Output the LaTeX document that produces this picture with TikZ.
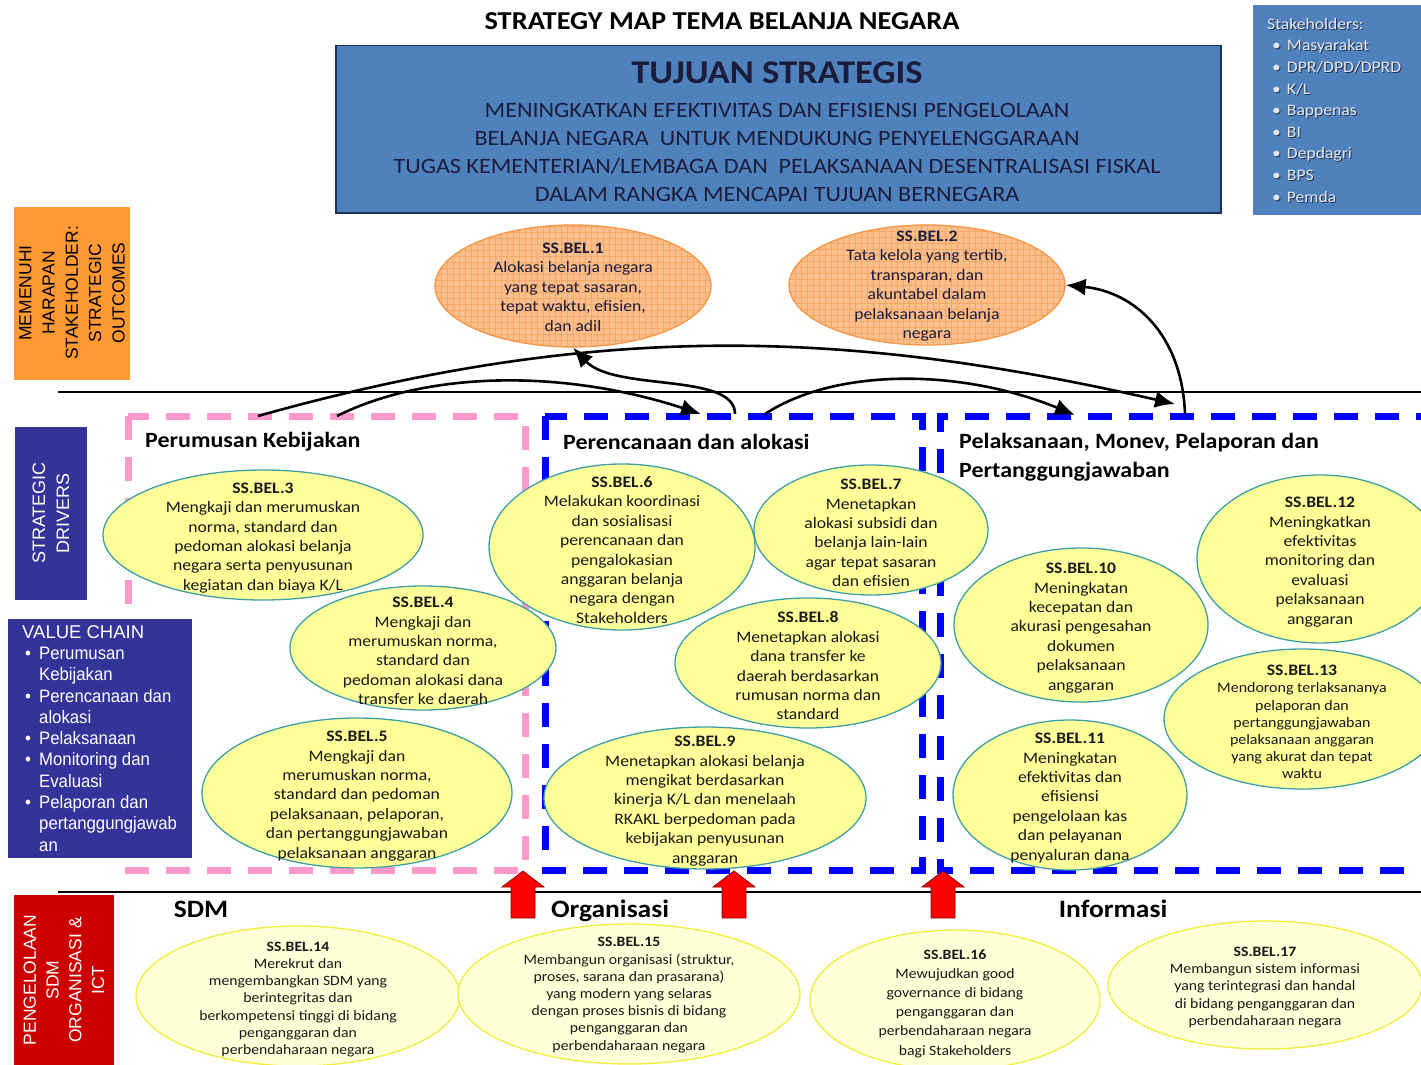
\documentclass[tikz,border=0pt]{standalone}
\usepackage{fontspec}
\setmainfont{Carlito}
\newfontfamily\calfont[FakeStretch=1.1]{Carlito}
\newfontfamily\arlfont{Liberation Sans}
\newfontfamily\arlnarrow[FakeStretch=0.93]{Liberation Sans}
\usetikzlibrary{shapes.geometric,arrows.meta}
\definecolor{boxblue}{HTML}{4F81BD}
\definecolor{boxedge}{HTML}{1F3050}
\definecolor{navyb}{HTML}{333399}
\definecolor{orbox}{HTML}{FF9933}
\definecolor{redbox}{HTML}{CC0000}
\definecolor{yelfill}{HTML}{FFFF99}
\definecolor{tealb}{HTML}{3E9FA8}
\definecolor{orfill}{HTML}{FBC08E}
\definecolor{orgrid}{HTML}{F5A765}
\definecolor{orline}{HTML}{F79646}
\definecolor{palefill}{HTML}{FFFFD8}
\definecolor{yelline}{HTML}{F2EC3A}
\definecolor{pinkd}{HTML}{FF99CC}
\definecolor{blued}{HTML}{0000FF}
\definecolor{darktxt}{HTML}{1C1C3C}
\definecolor{shtxt}{HTML}{E4E8EE}
\definecolor{shdark}{HTML}{26324A}
\tikzset{
 mid/.style={ellipse, draw=tealb, line width=1.3pt, fill=yelfill, inner sep=0pt},
 midt/.style={align=center, text=black!90, inner sep=0pt, yshift=-3pt, font=\calfont\fontsize{16}{19.4}\selectfont},
 topo/.style={ellipse, draw=orline, line width=1.3pt, fill=orfill, inner sep=0pt,
   path picture={\draw[orgrid, line width=0.5pt, step=6pt] (path picture bounding box.south west) grid (path picture bounding box.north east);}},
 topot/.style={align=center, text=darktxt, inner sep=0pt, yshift=-1pt, font=\calfont\fontsize{16}{19.5}\selectfont},
 bot/.style={ellipse, draw=yelline, line width=1.3pt, fill=palefill, inner sep=0pt},
 bott/.style={align=center, text=black!90, inner sep=0pt, yshift=-2.5pt, font=\calfont\fontsize{14.3}{17.2}\selectfont},
 hdr/.style={font=\calfont\bfseries\fontsize{21.8}{29}\selectfont, anchor=west, inner sep=0pt, align=left},
 sec/.style={font=\calfont\bfseries\fontsize{25}{28}\selectfont, inner sep=0pt, anchor=base},
 sidelab/.style={font=\arlfont\fontsize{17.5}{23.3}\selectfont, rotate=90, align=center, inner sep=0pt},
 dashbox/.style={line width=7pt, dash pattern=on 24pt off 17pt},
 flow/.style={line width=2.6pt, -{Latex[length=20pt,width=17pt]}},
 uparrow/.style={fill=red, draw=red!55!black, line width=0.8pt},
 sepline/.style={line width=1.4pt, black},
}
\newcommand{\stklist}{Stakeholders:\\\hspace*{5pt}\textbullet\hspace*{6pt}Masyarakat\\\hspace*{5pt}\textbullet\hspace*{6pt}DPR/DPD/DPRD\\\hspace*{5pt}\textbullet\hspace*{6pt}K/L\\\hspace*{5pt}\textbullet\hspace*{6pt}Bappenas\\\hspace*{5pt}\textbullet\hspace*{6pt}BI\\\hspace*{5pt}\textbullet\hspace*{6pt}Depdagri\\\hspace*{5pt}\textbullet\hspace*{6pt}BPS\\\hspace*{5pt}\textbullet\hspace*{6pt}Pemda}
\begin{document}
\begin{tikzpicture}[x=1pt,y=-1pt]
\useasboundingbox (0,0) rectangle (1421,1065);
\fill[white] (0,0) rectangle (1421,1065);

% title and goal box
\node[font=\calfont\bfseries\fontsize{25.8}{28}\selectfont, inner sep=0pt] (title) at (722,21) {STRATEGY MAP TEMA BELANJA NEGARA};
\node[draw=boxedge, line width=1.5pt, fill=boxblue, minimum width=885pt, minimum height=167pt, anchor=north west, inner sep=0pt] (tuj) at (335,45) {};
\node[font=\calfont\bfseries\fontsize{33.2}{35}\selectfont, text=darktxt, inner sep=0pt] (tujt) at (777,73) {TUJUAN STRATEGIS};
\node[font=\calfont\fontsize{21.9}{28}\selectfont, text=darktxt, align=center, inner sep=0pt] (tujx) at (777,152)
 {MENINGKATKAN EFEKTIVITAS DAN EFISIENSI PENGELOLAAN\\BELANJA NEGARA\ \ UNTUK MENDUKUNG PENYELENGGARAAN\\TUGAS KEMENTERIAN/LEMBAGA DAN\ \ PELAKSANAAN DESENTRALISASI FISKAL\\DALAM RANGKA MENCAPAI TUJUAN BERNEGARA};

% stakeholders
\node[fill=boxblue, minimum width=170pt, minimum height=210pt, anchor=north west, inner sep=0pt] (stk) at (1253,5) {};
\node[font=\calfont\fontsize{16}{21.6}\selectfont, text=shdark, align=left, anchor=north west, inner sep=0pt] (stks) at (1268,19) {\stklist};
\node[font=\calfont\fontsize{16}{21.6}\selectfont, text=shtxt, align=left, anchor=north west, inner sep=0pt] (stkt) at (1267,18) {\stklist};

% separator lines
\coordinate (l1a) at (58,392); \coordinate (l1b) at (1421,392);
\coordinate (l2a) at (58,892); \coordinate (l2b) at (1421,892);
\draw[sepline] (l1a) -- (l1b);
\draw[sepline] (l2a) -- (l2b);

% dashed value-chain boxes
\draw[dashbox, pinkd] (128,416) rectangle (525,870);
\draw[dashbox, blued] (545,416) rectangle (922,870);
\draw[dashbox, blued] (1440,416) -- (940,416) -- (940,870) -- (1440,870);

\node[hdr] (h1) at (145,442) {Perumusan Kebijakan};
\node[hdr] (h2) at (563,442) {Perencanaan dan alokasi};
\node[hdr, anchor=north west] (h3) at (959,433) {Pelaksanaan, Monev, Pelaporan dan\\Pertanggungjawaban};

% strategic outcomes
\node[topo, minimum width=276pt, minimum height=122pt, label={[topot]center:{\textbf{SS.BEL.1}\\Alokasi belanja negara\\yang tepat sasaran,\\tepat waktu, efisien,\\dan adil}}] (b1) at (573,286) {};
\node[topo, minimum width=276pt, minimum height=120pt, label={[topot]center:{\textbf{SS.BEL.2}\\Tata kelola yang tertib,\\transparan, dan\\akuntabel dalam\\pelaksanaan belanja\\negara}}] (b2) at (927,285) {};

% strategic drivers
\node[mid, minimum width=320pt, minimum height=130pt, label={[midt]center:{\textbf{SS.BEL.3}\\Mengkaji dan merumuskan\\norma, standard dan\\pedoman alokasi belanja\\negara serta penyusunan\\kegiatan dan biaya K/L}}] (b3) at (263,535) {};
\node[mid, minimum width=266pt, minimum height=124pt, label={[midt]center:{\textbf{SS.BEL.4}\\Mengkaji dan\\merumuskan norma,\\standard dan\\pedoman alokasi dana\\transfer ke daerah}}] (b4) at (423,648) {};
\node[mid, minimum width=310pt, minimum height=150pt, label={[midt]center:{\textbf{SS.BEL.5}\\Mengkaji dan\\merumuskan norma,\\standard dan pedoman\\pelaksanaan, pelaporan,\\dan pertanggungjawaban\\pelaksanaan anggaran}}] (b5) at (357,793) {};
\node[mid, minimum width=266pt, minimum height=166pt, label={[midt]center:{\textbf{SS.BEL.6}\\Melakukan koordinasi\\dan sosialisasi\\perencanaan dan\\pengalokasian\\anggaran belanja\\negara dengan\\Stakeholders}}] (b6) at (622,547) {};
\node[mid, minimum width=234pt, minimum height=130pt, label={[midt]center:{\textbf{SS.BEL.7}\\Menetapkan\\alokasi subsidi dan\\belanja lain-lain\\agar tepat sasaran\\dan efisien}}] (b7) at (871,530) {};
\node[mid, minimum width=266pt, minimum height=130pt, label={[midt]center:{\textbf{SS.BEL.8}\\Menetapkan alokasi\\dana transfer ke\\daerah berdasarkan\\rumusan norma dan\\standard}}] (b8) at (808,663) {};
\node[mid, minimum width=322pt, minimum height=142pt, label={[midt]center:{\textbf{SS.BEL.9}\\Menetapkan alokasi belanja\\mengikat berdasarkan\\kinerja K/L dan menelaah\\RKAKL berpedoman pada\\kebijakan penyusunan\\anggaran}}] (b9) at (705,798) {};
\node[mid, minimum width=254pt, minimum height=154pt, label={[midt]center:{\textbf{SS.BEL.10}\\Meningkatan\\kecepatan dan\\akurasi pengesahan\\dokumen\\pelaksanaan\\anggaran}}] (b10) at (1081,625) {};
\node[mid, minimum width=234pt, minimum height=150pt, label={[midt]center:{\textbf{SS.BEL.11}\\Meningkatan\\efektivitas dan\\efisiensi\\pengelolaan kas\\dan pelayanan\\penyaluran dana}}] (b11) at (1070,795) {};
\node[mid, minimum width=246pt, minimum height=168pt, label={[midt]center:{\textbf{SS.BEL.12}\\Meningkatkan\\efektivitas\\monitoring dan\\evaluasi\\pelaksanaan\\anggaran}}] (b12) at (1320,559) {};
\node[mid, minimum width=276pt, minimum height=140pt, label={[midt, font=\calfont\fontsize{14.5}{17.2}\selectfont]center:{\textbf{\fontsize{16}{17.2}\selectfont SS.BEL.13}\\Mendorong terlaksananya\\pelaporan dan\\pertanggungjawaban\\pelaksanaan anggaran\\yang akurat dan tepat\\waktu}}] (b13) at (1302,719) {};

% learning and growth
\node[bot, minimum width=324pt, minimum height=140pt, label={[bott, yshift=-1pt]center:{\textbf{SS.BEL.14}\\Merekrut dan\\mengembangkan SDM yang\\berintegritas dan\\berkompetensi tinggi di bidang\\penganggaran dan\\perbendaharaan negara}}] (b14) at (298,996) {};
\node[bot, minimum width=342pt, minimum height=140pt, label={[bott, yshift=1.5pt]center:{\textbf{SS.BEL.15}\\Membangun organisasi (struktur,\\proses, sarana dan prasarana)\\yang modern yang selaras\\dengan proses bisnis di bidang\\penganggaran dan\\perbendaharaan negara}}] (b15) at (629,994) {};
\node[bot, minimum width=290pt, minimum height=140pt, label={[bott, yshift=-1pt, font=\calfont\fontsize{14.3}{19.2}\selectfont]center:{\textbf{SS.BEL.16}\\Mewujudkan good\\governance di bidang\\penganggaran dan\\perbendaharaan negara\\bagi Stakeholders}}] (b16) at (955,1000) {};
\node[bot, minimum width=314pt, minimum height=128pt, label={[bott]center:{\textbf{SS.BEL.17}\\Membangun sistem informasi\\yang terintegrasi dan handal\\di bidang penganggaran dan\\perbendaharaan negara}}] (b17) at (1265,985) {};

\node[sec] (s1) at (201,917) {SDM};
\node[sec] (s2) at (610,917) {Organisasi};
\node[sec] (s3) at (1113,917) {Informasi};

% connectors
\coordinate (p1) at (258,416);
\coordinate (p2) at (337,416);
\coordinate (q1) at (701,414);
\coordinate (q2) at (735,414);
\coordinate (q3) at (765,414);
\coordinate (r1) at (1075,415);
\coordinate (r2) at (1175,404);
\coordinate (r3) at (1185,414);
\draw[flow] (p1) .. controls (600,320) and (850,330) .. (r2);
\draw[flow] (p2) .. controls (425,372) and (560,368) .. (q1);
\draw[flow] (q2) .. controls (735,372) and (615,392) .. (b1.south);
\draw[flow] (q3) .. controls (835,368) and (960,368) .. (r1);
\draw[flow] (r3) .. controls (1182,335) and (1135,292) .. (b2.east);

% red up arrows
\foreach \ax in {523,734,943}{
 \draw[uparrow] ({\ax-12},918) -- ({\ax-12},887) -- ({\ax-21},887) -- (\ax,871) -- ({\ax+21},887) -- ({\ax+12},887) -- ({\ax+12},918) -- cycle;
}

% side labels
\node[fill=orbox, minimum width=116pt, minimum height=173pt, anchor=north west, inner sep=0pt] (so) at (14,207) {};
\node[sidelab] (sot) at (72,293) {MEMENUHI\\HARAPAN\\STAKEHOLDER:\\STRATEGIC\\OUTCOMES};
\node[fill=navyb, minimum width=72pt, minimum height=173pt, anchor=north west, inner sep=0pt] (sd) at (15,427) {};
\node[sidelab, text=white, font=\arlfont\fontsize{18}{24}\selectfont] (sdt) at (51,513) {STRATEGIC\\DRIVERS};
\node[fill=navyb, minimum width=184pt, minimum height=239pt, anchor=north west, inner sep=0pt] (vc) at (8,619) {};
\node[font=\arlnarrow\fontsize{18}{21.3}\selectfont, text=white, align=left, anchor=north west, inner sep=0pt] (vct) at (22,625)
 {{\arlfont\fontsize{18.5}{21.3}\selectfont VALUE CHAIN}\\
 \makebox[17pt][l]{\,\textbullet}Perumusan\\\hspace*{17pt}Kebijakan\\
 \makebox[17pt][l]{\,\textbullet}Perencanaan dan\\\hspace*{17pt}alokasi\\
 \makebox[17pt][l]{\,\textbullet}Pelaksanaan\\
 \makebox[17pt][l]{\,\textbullet}Monitoring dan\\\hspace*{17pt}Evaluasi\\
 \makebox[17pt][l]{\,\textbullet}Pelaporan dan\\\hspace*{17pt}pertanggungjawab\\\hspace*{17pt}an};
\node[fill=redbox, minimum width=100pt, minimum height=170pt, anchor=north west, inner sep=0pt] (pg) at (14,895) {};
\node[sidelab, text=white, font=\arlfont\fontsize{17.5}{22.8}\selectfont] (pgt) at (64,980) {PENGELOLAAN\\SDM\\ORGANISASI \&\\ICT};
\end{tikzpicture}
\end{document}
